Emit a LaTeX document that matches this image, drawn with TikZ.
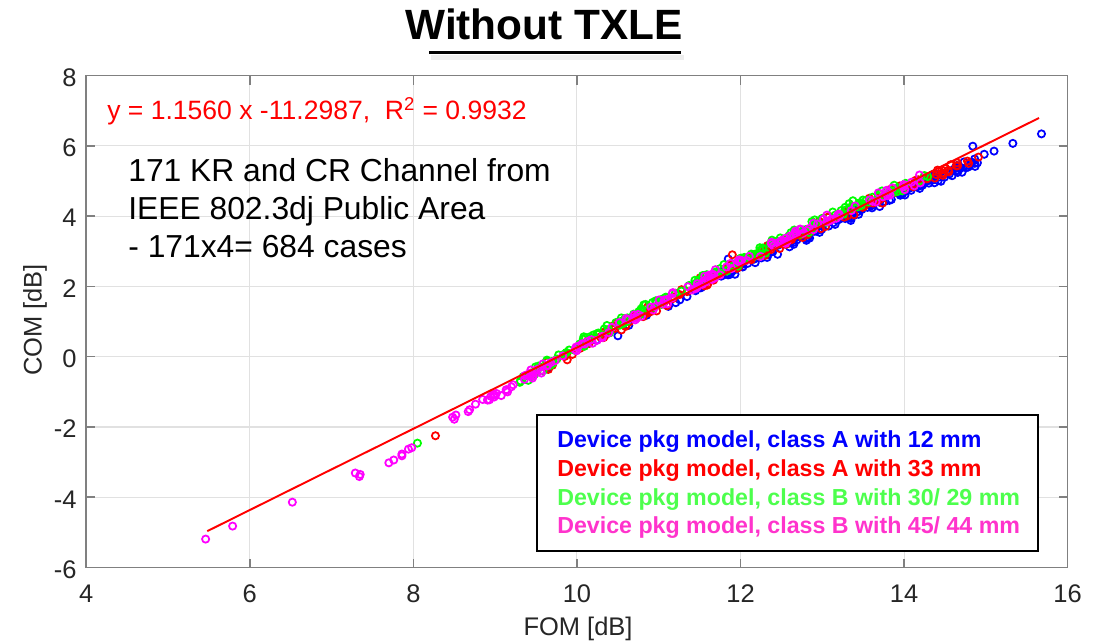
\documentclass[tikz,border=0pt]{standalone}
\usepackage{fontspec}
\setmainfont{Liberation Sans}
\definecolor{axgray}{RGB}{128,128,128}
\definecolor{gridgray}{RGB}{225,225,225}
\definecolor{ticktext}{RGB}{38,38,38}
\definecolor{mblue}{RGB}{0,0,255}
\definecolor{mred}{RGB}{255,0,0}
\definecolor{mgreen}{RGB}{0,255,0}
\definecolor{mmag}{RGB}{255,0,255}
\definecolor{lgreen}{RGB}{77,255,77}
\definecolor{lmag}{RGB}{255,51,204}
\begin{document}
\begin{tikzpicture}[x=0.02cm,y=-0.02cm,
  gridline/.style={draw=gridgray, line width=0.6pt},
  axisline/.style={draw=axgray, line width=0.9pt},
  ticklab/.style={text=ticktext, font=\fontsize{14.5}{16}\selectfont, inner sep=0pt},
  mk/.style={line width=1.0pt},
  legtext/.style={font=\fontsize{13.2}{15}\selectfont\bfseries, anchor=base west, inner sep=0pt},
  bigtext/.style={font=\fontsize{18.1}{21}\selectfont, anchor=base west, inner sep=0pt},
]
\useasboundingbox[fill=white] (0,0) rectangle (1099,644);

% title
\node[font=\fontsize{24.1}{28}\selectfont\bfseries, anchor=base, inner sep=0pt] (title) at (544,40) {Without TXLE};
\coordinate (ulA) at (429,53);
\coordinate (ulB) at (681,53);
\coordinate (shA) at (431,57.5);
\coordinate (shB) at (684,57.5);
\draw[black!7, line width=2.5pt] (shA) -- (shB);
\draw[black, line width=1.7pt] (ulA) -- (ulB);

\begin{scope}[shift={(-240.9,356.7)}, x=1.636cm, y=0.703cm]
  % grid
  \foreach \gx in {6,8,...,14} \draw[gridline] (\gx,-6) -- (\gx,8);
  \foreach \gy in {-4,-2,...,6} \draw[gridline] (4,\gy) -- (16,\gy);

  \pgfmathsetseed{7}
  % blue
  \foreach \i in {1,...,164}{
    \pgfmathsetmacro\rr{rnd}
    \pgfmathsetmacro\xx{10.2+4.7*sqrt(\rr)}
    \pgfmathsetmacro\yy{1.156*\xx-11.2987+0.08-0.04*(\xx-12)*(\xx-12)-0.12+0.09*(rand+rand)}
    \draw[mk,mblue] (\xx,\yy) circle[radius=0.072cm];
  }
  \foreach \px/\py in {15.68/6.34,15.33/6.07,15.1/5.85,14.98/5.76,14.84/5.99,9.64/-0.35,11.85/2.78}
    \draw[mk,mblue] (\px,\py) circle[radius=0.072cm];
  % red
  \foreach \i in {1,...,167}{
    \pgfmathsetmacro\xx{9.6+5.2*rnd}
    \pgfmathsetmacro\yy{1.156*\xx-11.2987+0.08-0.04*(\xx-12)*(\xx-12)+0.09*(rand+rand)}
    \draw[mk,mred] (\xx,\yy) circle[radius=0.072cm];
  }
  \foreach \px/\py in {14.91/5.68,14.64/5.43,8.27/-2.25,11.9/2.9}
    \draw[mk,mred] (\px,\py) circle[radius=0.072cm];
  % green
  \foreach \i in {1,...,170}{
    \pgfmathsetmacro\xx{9.3+5.0*rnd}
    \pgfmathsetmacro\yy{1.156*\xx-11.2987+0.08-0.04*(\xx-12)*(\xx-12)+0.1+0.09*(rand+rand)}
    \draw[mk,mgreen] (\xx,\yy) circle[radius=0.072cm];
  }
  \draw[mk,mgreen] (8.05,-2.46) circle[radius=0.072cm];
  % magenta
  \foreach \i in {1,...,156}{
    \pgfmathsetmacro\xx{8.6+5.6*rnd}
    \pgfmathsetmacro\yy{1.156*\xx-11.2987+0.08-0.04*(\xx-12)*(\xx-12)+0.05+0.09*(rand+rand)}
    \draw[mk,mmag] (\xx,\yy) circle[radius=0.072cm];
  }
  \foreach \px/\py in {5.46/-5.19,5.79/-4.82,6.52/-4.14,7.29/-3.31,7.35/-3.35,7.34/-3.41,7.70/-3.02,7.76/-2.94,7.86/-2.77,7.86/-2.82,7.94/-2.63,7.98/-2.59,8.48/-1.72,8.50/-1.78,8.52/-1.66}
    \draw[mk,mmag] (\px,\py) circle[radius=0.072cm];

  % fit line
  \coordinate (fitA) at (5.48,{1.156*5.48-11.2987});
  \coordinate (fitB) at (15.65,{1.156*15.65-11.2987});
  \draw[mred, line width=1.1pt] (fitA) -- (fitB);

  % axes box and ticks
  \draw[axisline] (4,-6) rectangle (16,8);
  \foreach \gx in {6,8,...,14}{
    \draw[axisline] (\gx,-6) -- ++(0,0.256);
    \draw[axisline] (\gx,8) -- ++(0,-0.256);
  }
  \foreach \gy in {-4,-2,...,6}{
    \draw[axisline] (4,\gy) -- ++(0.11,0);
    \draw[axisline] (16,\gy) -- ++(-0.11,0);
  }
  % tick labels
  \foreach \gx in {4,6,...,16}
    \node[ticklab, anchor=base] (xt\gx) at (\gx,-6.996) {\gx};
  \foreach \gy [count=\k] in {-6,-4,...,8}
    \node[ticklab, anchor=east] (yt\k) at (3.886,\gy-0.06) {\gy};
\end{scope}

% axis labels
\node[ticklab, anchor=base] (xlab) at (578,636) {FOM [dB]};
\node[ticklab, rotate=90, anchor=center] (ylab) at (35,320) {COM [dB]};

% equation
\node[font=\fontsize{15.1}{18}\selectfont, text=mred, anchor=base west, inner sep=0pt] (eq) at (107,120) {y = 1.1560 x -11.2987,~ R\textsuperscript{2} = 0.9932};

% description
\node[bigtext] (d1) at (128,182) {171 KR and CR Channel from};
\node[bigtext] (d2) at (128,220) {IEEE 802.3dj Public Area};
\node[bigtext] (d3) at (128,258) {- 171x4= 684 cases};

% legend
\draw[black, line width=1.1pt, fill=white] (537,415) rectangle (1038,551);
\node[legtext, text=mblue] (lg1) at (557,448) {Device pkg model, class A with 12 mm};
\node[legtext, text=mred] (lg2) at (557,477) {Device pkg model, class A with 33 mm};
\node[legtext, text=lgreen] (lg3) at (557,506) {Device pkg model, class B with 30/ 29 mm};
\node[legtext, text=lmag] (lg4) at (557,534) {Device pkg model, class B with 45/ 44 mm};
\end{tikzpicture}
\end{document}
